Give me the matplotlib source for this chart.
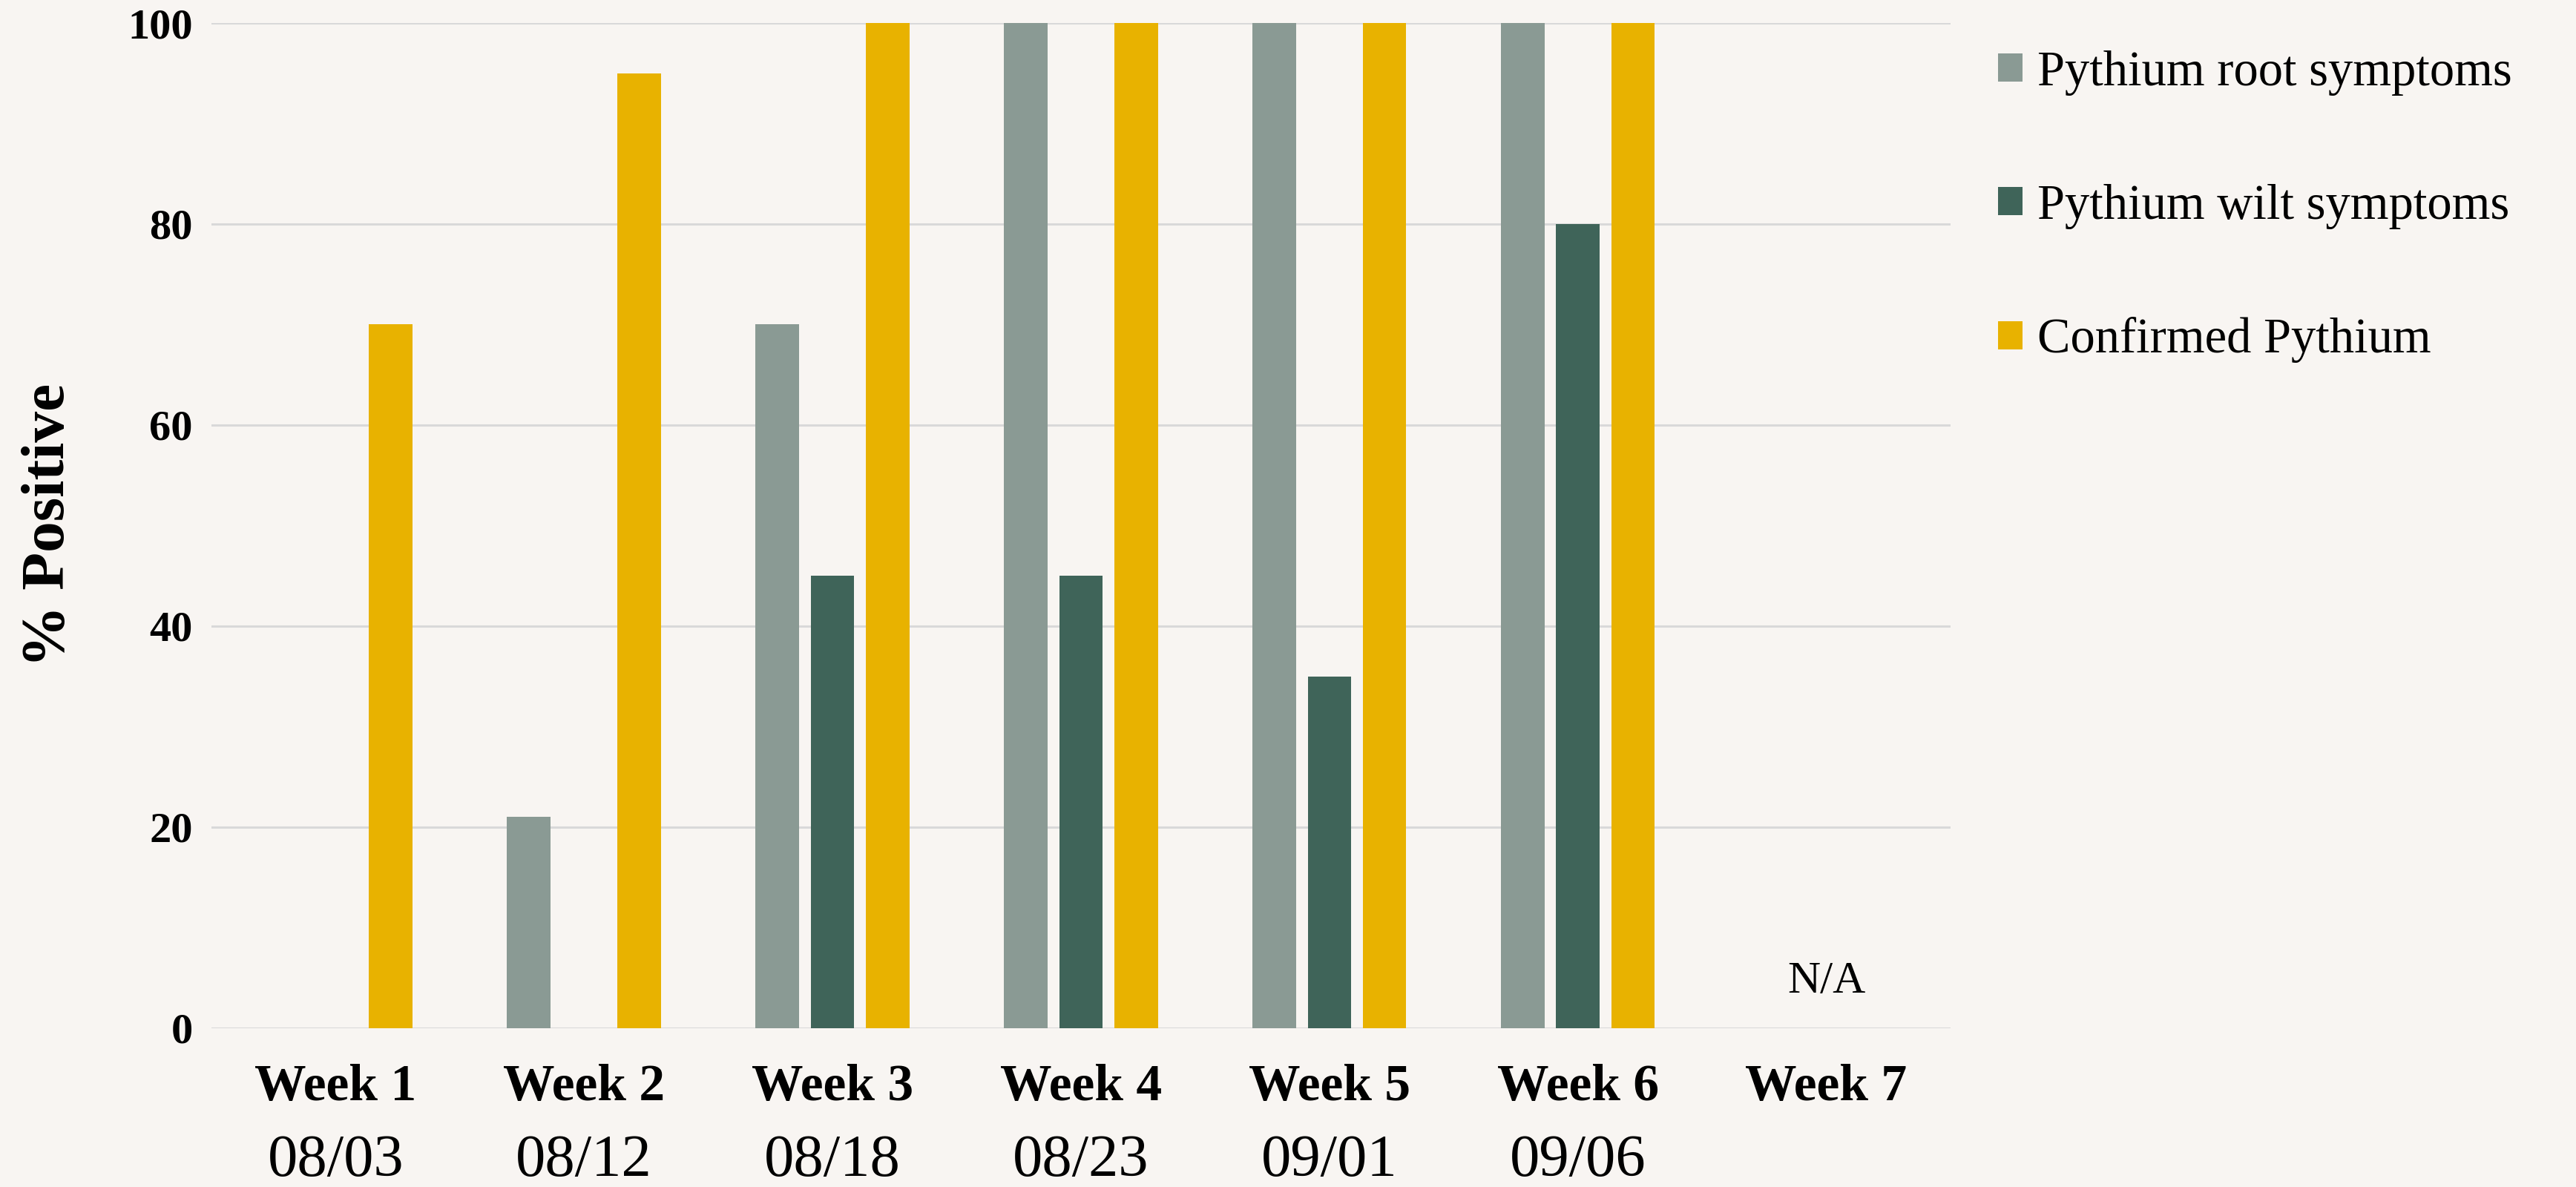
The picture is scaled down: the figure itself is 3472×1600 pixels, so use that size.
import matplotlib
matplotlib.use("Agg")
import matplotlib.pyplot as plt
from matplotlib.patches import Patch
import numpy as np

weeks = ["Week 1", "Week 2", "Week 3", "Week 4", "Week 5", "Week 6", "Week 7"]
dates = ["08/03", "08/12", "08/18", "08/23", "09/01", "09/06", ""]
series_names = ["Pythium root symptoms", "Pythium wilt symptoms", "Confirmed Pythium"]
root_symptoms = [0, 21, 70, 100, 100, 100, np.nan]
wilt_symptoms = [0, 0, 45, 45, 35, 80, np.nan]
confirmed = [70, 95, 100, 100, 100, 100, np.nan]
missing_label = "N/A"
y_ticks = [0, 20, 40, 60, 80, 100]

colors = ["#8A9A94", "#3F6459", "#E8B200"]
bg = "#F8F5F2"
serif = ["Liberation Serif", "DejaVu Serif"]

fig = plt.figure(figsize=(17.365, 8), dpi=200, facecolor=bg)
ax = fig.add_axes([0.082, 0.134, 0.675, 0.8466])
ax.set_facecolor(bg)

x = np.arange(len(weeks))
width = 0.175
step = 0.222
for i, (vals, col) in enumerate(zip([root_symptoms, wilt_symptoms, confirmed], colors)):
    ax.bar(x + (i - 1) * step, vals, width=width, color=col, label=series_names[i],
           zorder=3, linewidth=0)

ax.set_xlim(-0.5, len(weeks) - 0.5)
ax.set_ylim(0, 100)
ax.set_yticks(y_ticks)
ax.set_yticklabels([str(t) for t in y_ticks], fontfamily=serif, fontweight="bold",
                   fontsize=21)
ax.tick_params(axis="y", length=0, pad=9)
ax.set_xticks([])
ax.grid(axis="y", color="#D9D9D9", linewidth=1.1, zorder=0)
ax.set_axisbelow(True)
for s in ax.spines.values():
    s.set_visible(False)

ax.set_ylabel("% Positive", fontfamily=serif, fontweight="bold", fontsize=30,
              va="center")
ax.yaxis.set_label_coords(-0.093, 0.5)

trans = ax.get_xaxis_transform()
for xi, w, d in zip(x, weeks, dates):
    ax.text(xi, -0.0595, w, transform=trans, ha="center", va="center",
            fontfamily=serif, fontweight="bold", fontsize=25)
    if d:
        ax.text(xi, -0.133, d, transform=trans, ha="center", va="center",
                fontfamily=serif, fontsize=29)

ax.text(x[-1], 4.6, missing_label, ha="center", va="center",
        fontfamily=serif, fontsize=22)

handles = [Patch(facecolor=c, edgecolor="none") for c in colors]
leg = fig.legend(handles, series_names, loc="upper left",
                 bbox_to_anchor=(0.758, 0.995), frameon=False,
                 prop={"family": serif, "size": 24},
                 handlelength=0.5, handleheight=0.5, handletextpad=0.3,
                 labelspacing=1.78)

fig.savefig("out.png", dpi=200, facecolor=bg)
